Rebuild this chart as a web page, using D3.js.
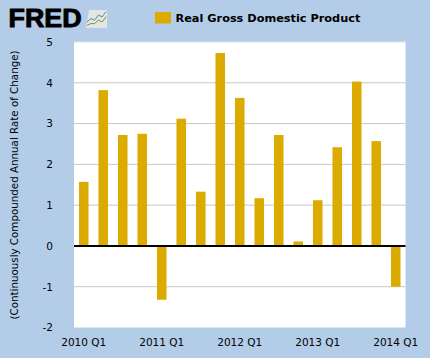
<!DOCTYPE html>
<html>
<head>
<meta charset="utf-8">
<script src="https://cdnjs.cloudflare.com/ajax/libs/d3/7.8.5/d3.min.js"></script>
<style>
  html, body { margin: 0; padding: 0; background: #b3cde8; }
  svg { display: block; }
  text { font-family: "DejaVu Sans", sans-serif; fill: #000; }
</style>
</head>
<body>
<svg id="chart"></svg>
<script>
const quarters = ["2010 Q1","2010 Q2","2010 Q3","2010 Q4","2011 Q1","2011 Q2","2011 Q3","2011 Q4",
  "2012 Q1","2012 Q2","2012 Q3","2012 Q4","2013 Q1","2013 Q2","2013 Q3","2013 Q4","2014 Q1"];
const gdpChange = [1.57,3.82,2.72,2.75,-1.32,3.12,1.33,4.73,3.63,1.17,2.72,0.11,1.12,2.42,4.03,2.57,-1.0];
const yTicks = [-2,-1,0,1,2,3,4,5];
const xLabels = ["2010 Q1","2011 Q1","2012 Q1","2013 Q1","2014 Q1"];
const seriesName = "Real Gross Domestic Product";
const yTitle = "(Continuously Compounded Annual Rate of Change)";
const logoLine1 = [3,5,4,7,6,9];
const logoLine2 = [1,2,2,4,3,6];

// set the dimensions and margins of the graph
const margin = {top: 42, right: 24.5, bottom: 30.5, left: 74},
    width = 430 - margin.left - margin.right,
    height = 358 - margin.top - margin.bottom;

const root = d3.select("#chart").attr("width", 430).attr("height", 358);

root.append("rect").attr("width", 430).attr("height", 358).attr("fill", "#b3cde8");

const svg = root.append("g")
    .attr("transform", `translate(${margin.left},${margin.top})`);

svg.append("rect")
    .attr("width", width)
    .attr("height", height)
    .attr("fill", "#fff");

const x = d3.scaleBand()
  .domain(quarters)
  .range([0, width])
  .paddingInner(0.51)
  .paddingOuter(0.255);

const y = d3.scaleLinear()
  .domain([-2, 5])
  .range([height, 0]);

// grid lines
svg.append("g")
  .selectAll("line")
  .data(yTicks.filter(d => d !== 0 && d !== -2))
  .join("line")
    .attr("x1", 0)
    .attr("x2", width)
    .attr("y1", d => y(d))
    .attr("y2", d => y(d))
    .attr("stroke", d => d === 5 ? "#e6e0dc" : "#c8c8c8")
    .attr("stroke-width", 1);

// bars
svg.append("g")
  .selectAll("rect")
  .data(gdpChange)
  .join("rect")
    .attr("x", (d, i) => x(quarters[i]))
    .attr("y", d => y(Math.max(d, 0)))
    .attr("width", x.bandwidth())
    .attr("height", d => Math.abs(y(d) - y(0)))
    .attr("fill", "#dcab00");

// zero line
svg.append("line")
    .attr("x1", 0)
    .attr("x2", width)
    .attr("y1", y(0))
    .attr("y2", y(0))
    .attr("stroke", "#000")
    .attr("stroke-width", 2);

// Y axis
const yAxis = svg.append("g")
  .call(d3.axisLeft(y).tickValues(yTicks).tickSize(0).tickPadding(21).tickFormat(d => String(d)));
yAxis.select(".domain").remove();
yAxis.selectAll("text")
    .attr("font-size", 10.5)
    .style("font-family", "'DejaVu Sans', sans-serif");

// X axis
const xAxis = svg.append("g")
    .attr("transform", `translate(0,${height})`)
  .call(d3.axisBottom(x).tickValues(xLabels).tickSize(0).tickPadding(11));
xAxis.select(".domain").remove();
xAxis.selectAll("text")
    .attr("font-size", 10.5)
    .style("font-family", "'DejaVu Sans', sans-serif");

// Y title
root.append("text")
    .attr("transform", "translate(18,185) rotate(-90)")
    .attr("text-anchor", "middle")
    .attr("font-size", 10.3)
    .text(yTitle);

// legend
root.append("rect")
    .attr("x", 155)
    .attr("y", 12)
    .attr("width", 16)
    .attr("height", 11.5)
    .attr("fill", "#dcab00");
root.append("text")
    .attr("x", 175.5)
    .attr("y", 22)
    .attr("font-size", 11.3)
    .attr("font-weight", 700)
    .text(seriesName);

// logo
root.append("text")
    .attr("x", 8.5)
    .attr("y", 27)
    .attr("font-size", 25)
    .attr("font-weight", 700)
    .attr("textLength", 73)
    .attr("lengthAdjust", "spacingAndGlyphs")
    .style("font-family", "'Liberation Sans', sans-serif")
    .attr("stroke", "#000")
    .attr("stroke-width", 0.9)
    .text("FRED");

const logo = root.append("g").attr("transform", "translate(86,9)");
logo.append("path")
    .attr("d", "M3,1H21V19H0Z")
    .attr("fill", "#e4e6e2");
const lx = d3.scaleLinear().domain([0, 5]).range([1, 20]);
const ly = d3.scaleLinear().domain([0, 10]).range([18, 1]);
const logoPath = d3.line().x((d, i) => lx(i)).y(d => ly(d));
logo.append("path").attr("d", logoPath(logoLine1))
    .attr("fill", "none").attr("stroke", "#5d87a8").attr("stroke-width", 1);
logo.append("path").attr("d", logoPath(logoLine2))
    .attr("fill", "none").attr("stroke", "#6a9a3c").attr("stroke-width", 1);
</script>
</body>
</html>
